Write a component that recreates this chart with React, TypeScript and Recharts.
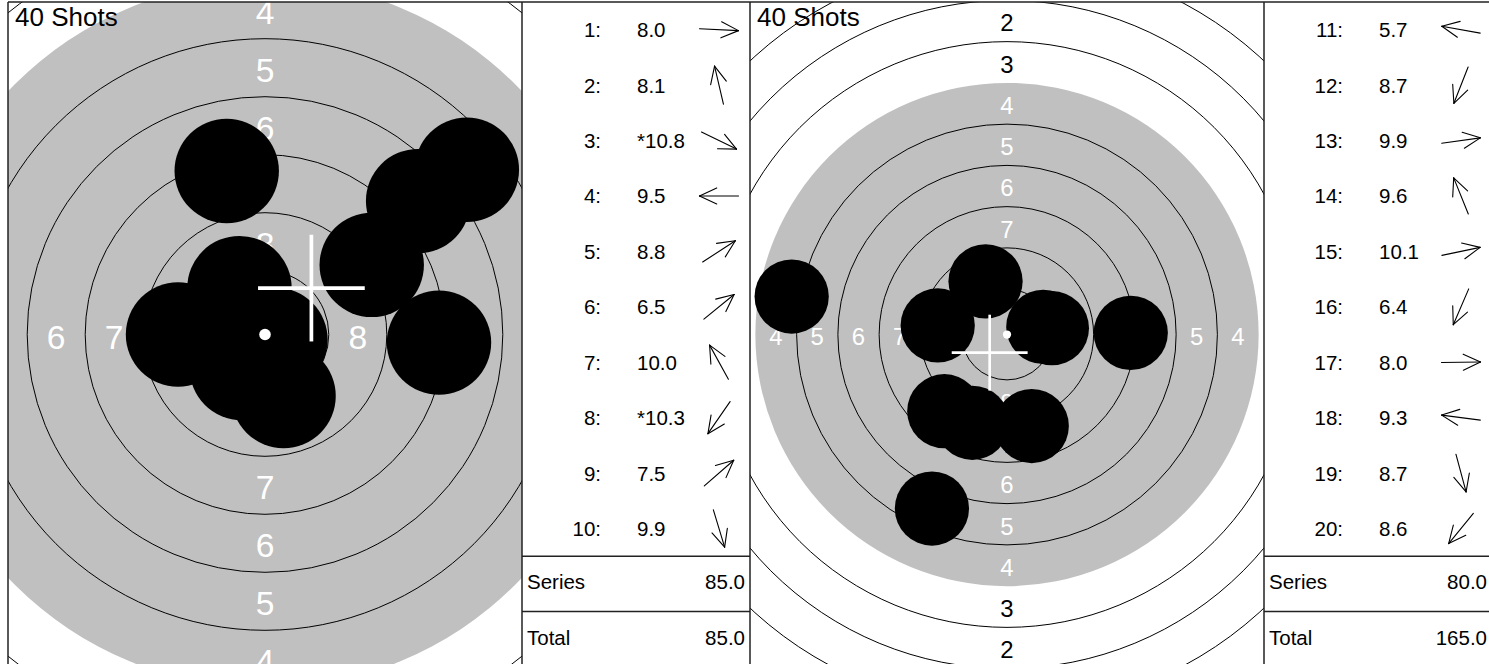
import React from 'react';
import { ScatterChart, Scatter, XAxis, YAxis } from 'recharts';

// ---- target geometry (ISSF 10m air rifle, mm) ----
const ringNumbers = [1, 2, 3, 4, 5, 6, 7, 8, 9];
const ringRadiiMm = [22.75, 20.25, 17.75, 15.25, 12.75, 10.25, 7.75, 5.25, 2.75];
const labelledRings = [1, 2, 3, 4, 5, 6, 7, 8];
const aimingMarkRing = 4;
const tenDotRadiusMm = 0.25;
const pelletRadiusMm = 2.25;

// ---- series 1 (shots 1-10) ----
const seriesANumbers = [1, 2, 3, 4, 5, 6, 7, 8, 9, 10];
const seriesAScores = [8.0, 8.1, 10.8, 9.5, 8.8, 6.5, 10.0, 10.3, 7.5, 9.9];
const seriesAInnerTen = [false, false, true, false, false, false, false, true, false, false];
const seriesAX = [7.5, -1.65, 0.45, -3.75, 4.6, 8.7, -1.1, -1.0, 6.6, 0.8];
const seriesAY = [-0.35, 7.05, -0.22, 0.0, 3.0, 7.1, 2.0, -1.45, 5.75, -2.65];

// ---- series 2 (shots 11-20) ----
const seriesBNumbers = [11, 12, 13, 14, 15, 16, 17, 18, 19, 20];
const seriesBScores = [5.7, 8.7, 9.9, 9.6, 10.1, 6.4, 8.0, 9.3, 8.7, 8.6];
const seriesBInnerTen = [false, false, false, false, false, false, false, false, false, false];
const seriesBX = [-13.05, -2.1, 2.72, -1.3, 2.2, -4.55, 7.5, -4.2, 1.5, -3.8];
const seriesBY = [2.3, -5.35, 0.38, 3.22, 0.46, -10.55, 0.1, 0.55, -5.55, -4.65];

// group centre crosses (mm) and display zoom (px per mm) per target
const crossX = [2.0, -1.05];
const crossY = [2.0, -1.1];
const crossHalfMm = 2.3;
const zoomPxPerMm = [23.2, 16.5];
const titleText = '40 Shots';
const summaryLabels = ['Series', 'Total'];

// ---- layout ----
const TOP = 2;
const TARGET_W = 514;
const TARGET_H = 665;
const TABLE_W = 228;
const ROWS = 12;
const ROW_H = TARGET_H / ROWS;
const FONT = '"Liberation Sans", Arial, Helvetica, sans-serif';
const GRAY = '#c0c0c0';

type Pt = { x: number; y: number; r?: number; n?: number; inside?: boolean };

function Target({ left, ppm, xs, ys, cx, cy }: { left: number; ppm: number; xs: number[]; ys: number[]; cx: number; cy: number }) {
  const hx = TARGET_W / 2 / ppm;
  const hy = TARGET_H / 2 / ppm;
  const labelSize = 1.45 * ppm;
  const labelHalfMm = (labelSize * 0.3) / ppm;
  const origin: Pt[] = [{ x: 0, y: 0 }];
  const markR = ringRadiiMm[ringNumbers.indexOf(aimingMarkRing)];
  const rings: Pt[] = ringNumbers
    .filter((n) => n !== aimingMarkRing)
    .map((n) => ({ x: 0, y: 0, r: ringRadiiMm[ringNumbers.indexOf(n)] }));
  const labels: Pt[] = [];
  labelledRings.forEach((n) => {
    const i = ringNumbers.indexOf(n);
    const d = (ringRadiiMm[i] + ringRadiiMm[i + 1]) / 2;
    const inside = n >= aimingMarkRing;
    if (d - labelHalfMm < hy) labels.push({ x: 0, y: d, n, inside }, { x: 0, y: -d, n, inside });
    if (d + labelHalfMm < hx) labels.push({ x: d, y: 0, n, inside }, { x: -d, y: 0, n, inside });
  });
  const shots: Pt[] = xs.map((x, i) => ({ x, y: ys[i] }));
  const cross: Pt[] = [{ x: cx, y: cy }];
  const crossW = 0.16 * ppm;

  return (
    <div style={{ position: 'absolute', left, top: TOP, width: TARGET_W, height: TARGET_H, overflow: 'hidden' }}>
      <ScatterChart width={TARGET_W} height={TARGET_H} margin={{ top: 0, right: 0, bottom: 0, left: 0 }}>
        <XAxis type="number" dataKey="x" domain={[-hx, hx]} hide allowDataOverflow />
        <YAxis type="number" dataKey="y" domain={[-hy, hy]} hide allowDataOverflow />
        <Scatter
          data={origin}
          isAnimationActive={false}
          shape={(p: any) => <circle cx={p.cx} cy={p.cy} r={markR * ppm} fill={GRAY} />}
        />
        <Scatter
          data={rings}
          isAnimationActive={false}
          shape={(p: any) => <circle cx={p.cx} cy={p.cy} r={p.payload.r * ppm} fill="none" stroke="#000" strokeWidth={1} />}
        />
        <Scatter
          data={labels}
          isAnimationActive={false}
          shape={(p: any) => (
            <text
              x={p.cx}
              y={p.cy}
              dy="0.08em"
              textAnchor="middle"
              dominantBaseline="central"
              fontFamily={FONT}
              fontSize={labelSize}
              fill={p.payload.inside ? '#ffffff' : '#000000'}
            >
              {p.payload.n}
            </text>
          )}
        />
        <Scatter
          data={shots}
          isAnimationActive={false}
          shape={(p: any) => <circle cx={p.cx} cy={p.cy} r={pelletRadiusMm * ppm} fill="#000" />}
        />
        <Scatter
          data={origin}
          isAnimationActive={false}
          shape={(p: any) => <circle cx={p.cx} cy={p.cy} r={tenDotRadiusMm * ppm} fill="#fff" />}
        />
        <Scatter
          data={cross}
          isAnimationActive={false}
          shape={(p: any) => (
            <g>
              <line x1={p.cx - crossHalfMm * ppm} x2={p.cx + crossHalfMm * ppm} y1={p.cy} y2={p.cy} stroke="#fff" strokeWidth={crossW} />
              <line x1={p.cx} x2={p.cx} y1={p.cy - crossHalfMm * ppm} y2={p.cy + crossHalfMm * ppm} stroke="#fff" strokeWidth={crossW} />
            </g>
          )}
        />
      </ScatterChart>
    </div>
  );
}

function Arrow({ cx, cy, angle }: { cx: number; cy: number; angle: number }) {
  const L = 19.5;
  const c = Math.cos(angle);
  const s = Math.sin(angle);
  const tipX = cx + L * c;
  const tipY = cy - L * s;
  const tailX = cx - L * c;
  const tailY = cy + L * s;
  const head = 19;
  const spread = (25 * Math.PI) / 180;
  const back = angle + Math.PI;
  const h1x = tipX + head * Math.cos(back + spread);
  const h1y = tipY - head * Math.sin(back + spread);
  const h2x = tipX + head * Math.cos(back - spread);
  const h2y = tipY - head * Math.sin(back - spread);
  return (
    <g stroke="#000" strokeWidth={1.1} fill="none" strokeLinecap="round">
      <line x1={tailX} y1={tailY} x2={tipX} y2={tipY} />
      <line x1={tipX} y1={tipY} x2={h1x} y2={h1y} />
      <line x1={tipX} y1={tipY} x2={h2x} y2={h2y} />
    </g>
  );
}

function Table({ x0, nums, scores, inner, xs, ys, seriesSum, total }: any) {
  const fs = 20.5;
  return (
    <g fontFamily={FONT} fontSize={fs} fill="#000">
      {nums.map((n: number, i: number) => {
        const cy = TOP + ROW_H * (i + 0.5);
        return (
          <g key={n}>
            <text x={x0 + 79} y={cy} textAnchor="end" dominantBaseline="central">{n}:</text>
            <text x={x0 + 115} y={cy} textAnchor="start" dominantBaseline="central">
              {(inner[i] ? '*' : '') + scores[i].toFixed(1)}
            </text>
            <Arrow cx={x0 + 197} cy={cy} angle={Math.atan2(ys[i], xs[i])} />
          </g>
        );
      })}
      {[seriesSum, total].map((v: number, k: number) => {
        const cy = TOP + ROW_H * (10 + k + 0.5) - 2;
        return (
          <g key={k}>
            <text x={x0 + 5} y={cy} dominantBaseline="central">{summaryLabels[k]}</text>
            <text x={x0 + 223} y={cy} textAnchor="end" dominantBaseline="central">{v.toFixed(1)}</text>
          </g>
        );
      })}
      <line x1={x0} x2={x0 + TABLE_W} y1={TOP + ROW_H * 10} y2={TOP + ROW_H * 10} stroke="#222" strokeWidth={1.5} />
      <line x1={x0} x2={x0 + TABLE_W} y1={TOP + ROW_H * 11} y2={TOP + ROW_H * 11} stroke="#222" strokeWidth={1.5} />
    </g>
  );
}

export default function App() {
  const leftA = 8;
  const tableA = leftA + TARGET_W;
  const leftB = tableA + TABLE_W;
  const tableB = leftB + TARGET_W;
  const sumA = seriesAScores.reduce((a, s) => a + Math.floor(s), 0);
  const sumB = seriesBScores.reduce((a, s) => a + Math.floor(s), 0);
  return (
    <div style={{ position: 'absolute', left: 0, top: 0, width: 1489, height: 664, overflow: 'hidden', background: '#fff' }}>
      <Target left={leftA} ppm={zoomPxPerMm[0]} xs={seriesAX} ys={seriesAY} cx={crossX[0]} cy={crossY[0]} />
      <Target left={leftB} ppm={zoomPxPerMm[1]} xs={seriesBX} ys={seriesBY} cx={crossX[1]} cy={crossY[1]} />
      <svg width={1489} height={664} style={{ position: 'absolute', left: 0, top: 0, pointerEvents: 'none' }}>
        <text x={leftA + 7} y={26} fontFamily={FONT} fontSize={26} fill="#000">{titleText}</text>
        <text x={leftB + 7} y={26} fontFamily={FONT} fontSize={26} fill="#000">{titleText}</text>
        <Table x0={tableA} nums={seriesANumbers} scores={seriesAScores} inner={seriesAInnerTen} xs={seriesAX} ys={seriesAY} seriesSum={sumA} total={sumA} />
        <Table x0={tableB} nums={seriesBNumbers} scores={seriesBScores} inner={seriesBInnerTen} xs={seriesBX} ys={seriesBY} seriesSum={sumB} total={sumA + sumB} />
        <line x1={leftA} x2={1489} y1={TOP} y2={TOP} stroke="#222" strokeWidth={1.5} />
        {[leftA, tableA, leftB, tableB].map((x) => (
          <line key={x} x1={x} x2={x} y1={TOP} y2={TOP + TARGET_H} stroke="#222" strokeWidth={1.5} />
        ))}
      </svg>
    </div>
  );
}
